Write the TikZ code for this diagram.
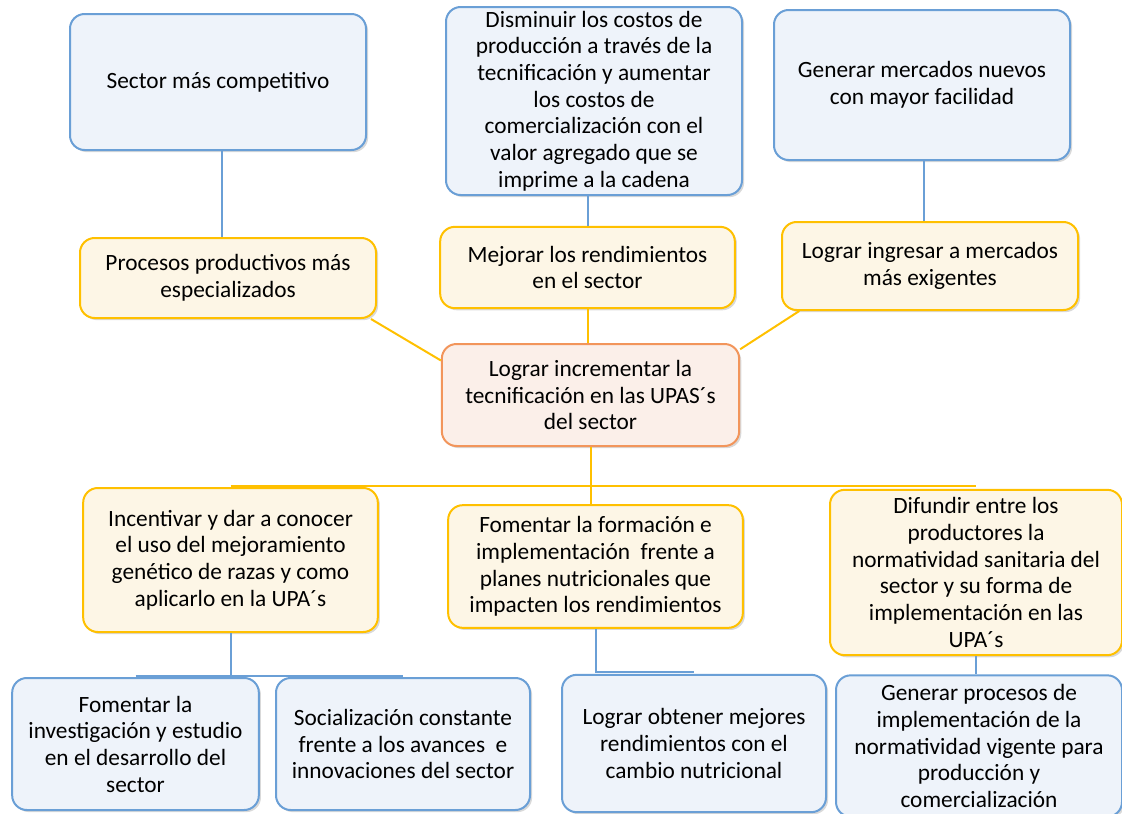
\documentclass[tikz,border=0pt]{standalone}
\usepackage{fontspec}
\setmainfont{Carlito}
\usetikzlibrary{shadows}

\definecolor{azulborde}{HTML}{6A9FD6}
\definecolor{azulfondo}{HTML}{EEF3FA}
\definecolor{oroborde}{HTML}{FFC000}
\definecolor{orofondo}{HTML}{FDF6E6}
\definecolor{naranjaborde}{HTML}{F2955B}
\definecolor{naranjafondo}{HTML}{FBEFE9}

\tikzset{
    caja/.style={rounded corners=11pt, line width=1.5pt, align=center, inner sep=0pt,
        font=\fontsize{17.5pt}{20pt}\selectfont,
        drop shadow={shadow xshift=1.6pt, shadow yshift=-1.6pt, opacity=0.3}},
    efecto/.style={caja, draw=azulborde, fill=azulfondo},
    medio/.style={caja, draw=oroborde, fill=orofondo},
    problema/.style={caja, draw=naranjaborde, fill=naranjafondo},
    lineaazul/.style={draw=azulborde, line width=1.5pt},
    lineaoro/.style={draw=oroborde, line width=1.5pt},
}

\begin{document}
\begin{tikzpicture}[x=0.75pt,y=-0.75pt]
    \useasboundingbox (0,0) rectangle (1122,814);

    % Fines
    \node[efecto, minimum width=222pt, minimum height=102pt] (fin1) at (218,82)
        {Sector más competitivo};
    \node[efecto, minimum width=222pt, minimum height=141pt] (fin2) at (594,101)
        {Disminuir los costos de\\producción a través de la\\tecnificación y aumentar\\los costos de\\comercialización con el\\valor agregado que se\\imprime a la cadena};
    \node[efecto, minimum width=222pt, minimum height=112.5pt] (fin3) at (922,85)
        {Generar mercados nuevos\\con mayor facilidad};

    % Fines directos
    \node[medio, minimum width=222pt, minimum height=60pt] (dir1) at (228,278)
        {Procesos productivos más\\especializados};
    \node[medio, minimum width=221pt, minimum height=61pt] (dir2) at (587.5,267.5)
        {Mejorar los rendimientos\\en el sector};
    \node[medio, minimum width=222pt, minimum height=66pt] (dir3) at (930,266)
        {Lograr ingresar a mercados\\más exigentes};

    % Objetivo central
    \node[problema, minimum width=223pt, minimum height=76.5pt] (obj) at (590.5,395)
        {Lograr incrementar la\\tecnificación en las UPAS´s\\del sector};

    % Medios
    \node[medio, minimum width=221pt, minimum height=108pt] (med1) at (230.5,560)
        {Incentivar y dar a conocer\\el uso del mejoramiento\\genético de razas y como\\aplicarlo en la UPA´s};
    \node[medio, minimum width=221pt, minimum height=92pt] (med2) at (595.5,566.5)
        {Fomentar la formación e\\implementación~ frente a\\planes nutricionales que\\impacten los rendimientos};
    \node[medio, minimum width=219pt, minimum height=124pt] (med3) at (976,572.5)
        {Difundir entre los\\productores la\\normatividad sanitaria del\\sector y su forma de\\implementación en las\\UPA´s};

    % Acciones
    \node[efecto, minimum width=185pt, minimum height=99pt] (acc1) at (135.5,744)
        {Fomentar la\\investigación y estudio\\en el desarrollo del\\sector};
    \node[efecto, minimum width=190.5pt, minimum height=99pt] (acc2) at (403,744)
        {Socialización constante\\frente a los avances~ e\\innovaciones del sector};
    \node[efecto, minimum width=198pt, minimum height=103pt] (acc3) at (694,743.5)
        {Lograr obtener mejores\\rendimientos con el\\cambio nutricional};
    \node[efecto, minimum width=214.5pt, minimum height=106pt] (acc4) at (979,746)
        {Generar procesos de\\implementación de la\\normatividad vigente para\\producción y\\comercialización};

    % Conectores de arriba
    \draw[lineaazul] (fin1.south) ++(4,0) coordinate (t1) -- (t1 |- dir1.north);
    \draw[lineaazul] (dir2.north |- fin2.south) -- (dir2.north);
    \draw[lineaazul] (fin3.south) ++(2,0) coordinate (t3) -- (t3 |- dir3.north);
    \draw[lineaoro] (dir1.-16) -- (obj.167);
    \draw[lineaoro] (dir2.south) -- (dir2.south |- obj.north);
    \draw[lineaoro] (dir3.199) -- (obj.17);

    % Conectores de abajo
    \coordinate (cruce) at (590,486);
    \draw[lineaoro] (obj.south) -- (obj.south |- med2.north);
    \draw[lineaoro] (med1.north |- cruce) -- (med3.north |- cruce);
    \coordinate (pie1) at (0,676);
    \draw[lineaazul] (med1.south) -- (med1.south |- pie1);
    \draw[lineaazul] (acc1.north |- pie1) -- (acc2.north |- pie1);
    \coordinate (pie2) at (0,672);
    \draw[lineaazul] (med2.south) -- (med2.south |- pie2) -- (acc3.north |- pie2);
    \draw[lineaazul] (med3.south) -- (acc4.north -| med3.south);
\end{tikzpicture}
\end{document}
